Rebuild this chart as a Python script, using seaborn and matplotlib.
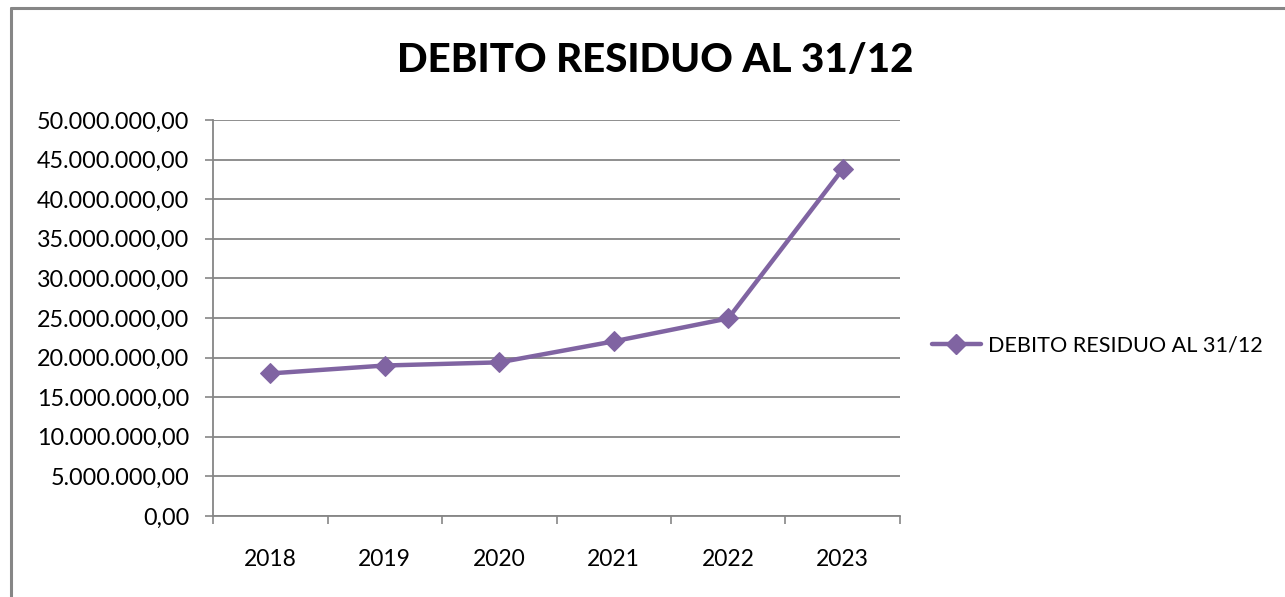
import pandas as pd
import matplotlib.pyplot as plt
import seaborn as sns
from matplotlib.ticker import FuncFormatter, FixedLocator
from matplotlib.lines import Line2D

# Data
years = ["2018", "2019", "2020", "2021", "2022", "2023"]
debito = [18_000_000, 19_000_000, 19_400_000, 22_050_000, 24_950_000, 43_800_000]
series_name = "DEBITO RESIDUO AL 31/12"

df = pd.DataFrame({"anno": years, "debito": debito})

sns.set_style("white")
plt.rcParams["font.family"] = ["Lato", "DejaVu Sans"]
plt.rcParams["text.color"] = "black"
plt.rcParams["xtick.color"] = "black"
plt.rcParams["ytick.color"] = "black"

purple = "#8064A2"
grid_gray = "#868686"

fig = plt.figure(figsize=(12.85, 5.97), dpi=100)
ax = fig.add_axes([213 / 1285, 1 - 516 / 597, (900 - 213) / 1285, (516 - 120) / 597])

sns.lineplot(data=df, x="anno", y="debito", ax=ax, color=purple, lw=3.2,
             marker="D", markersize=10, markeredgecolor=purple, sort=False)

ax.set_xlim(-0.5, len(years) - 0.5)
ax.set_ylim(0, 50_000_000)
ax.yaxis.set_major_locator(FixedLocator(range(0, 50_000_001, 5_000_000)))


def it_fmt(v, pos):
    s = f"{v:,.2f}"
    return s.replace(",", "X").replace(".", ",").replace("X", ".")


ax.yaxis.set_major_formatter(FuncFormatter(it_fmt))
ax.grid(axis="y", color=grid_gray, lw=1.3)
ax.set_axisbelow(True)

# category ticks between groups, labels centred
ax.xaxis.set_minor_locator(FixedLocator([i - 0.5 for i in range(len(years) + 1)]))
ax.tick_params(axis="x", which="major", length=0, pad=24, labelsize=16.5, labelcolor="black")
ax.tick_params(axis="x", which="minor", length=6, width=1.2, color=grid_gray, direction="out")
ax.tick_params(axis="y", which="major", length=6, width=1.2, color=grid_gray, direction="out",
               labelsize=16.8, labelcolor="black", pad=11)
ax.tick_params(left=True, bottom=False)
ax.xaxis.set_tick_params(which="minor", bottom=True)

for side in ["top", "right"]:
    ax.spines[side].set_visible(False)
for side in ["left", "bottom"]:
    ax.spines[side].set_color(grid_gray)
    ax.spines[side].set_linewidth(1.3)

ax.set_xlabel("")
ax.set_ylabel("")

fig.text(655 / 1285, 1 - 61 / 597, series_name, ha="center", va="center",
         fontsize=29, fontweight="black", color="black")

handle = Line2D([], [], color=purple, lw=3.2, marker="D", markersize=10)
fig.legend([handle], [series_name], loc="center left",
           bbox_to_anchor=(912 / 1285, 1 - 346 / 597), frameon=False,
           fontsize=15.6, handlelength=2.3, handletextpad=0.3)

# outer chart frame (left and top edges visible)
fig.add_artist(Line2D([11 / 1285, 11 / 1285], [0, 1 - 8 / 597], color=grid_gray, lw=2.2,
                      transform=fig.transFigure))
fig.add_artist(Line2D([11 / 1285, 1], [1 - 8 / 597, 1 - 8 / 597], color=grid_gray, lw=2.2,
                      transform=fig.transFigure))

plt.savefig("out.png", dpi=100)
